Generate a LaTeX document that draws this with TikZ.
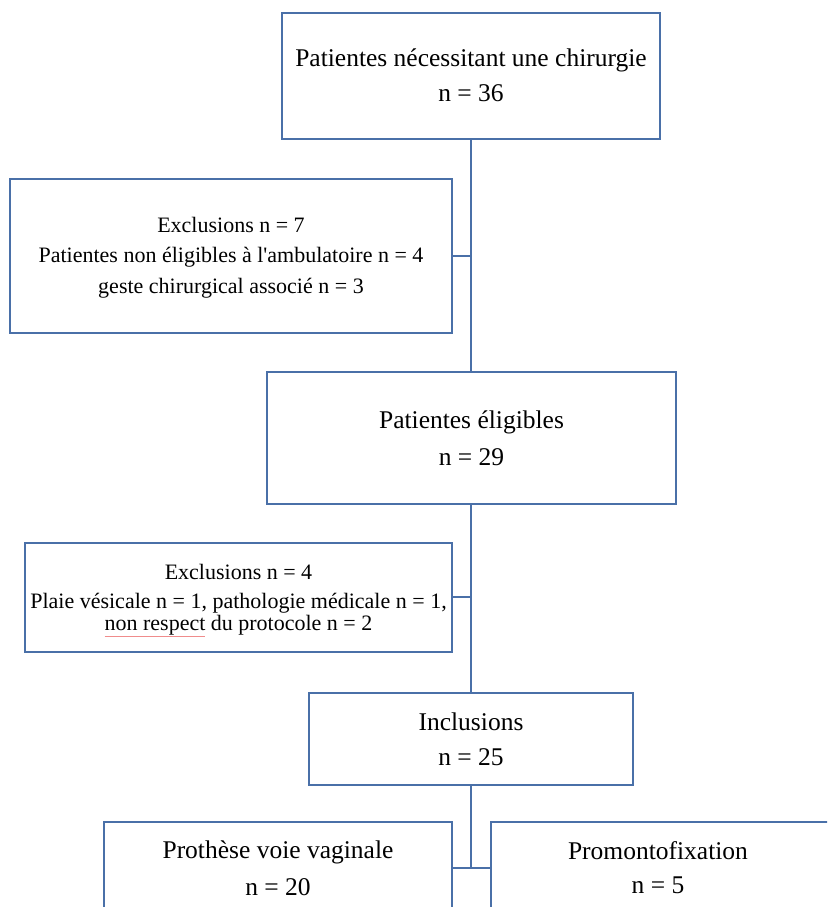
\documentclass[tikz,border=0pt]{standalone}
\usepackage{fontspec}
\setmainfont{Liberation Serif}[Ligatures=TeXOff]
\definecolor{boxblue}{RGB}{74,112,168}
\definecolor{spell}{RGB}{240,140,140}
\newcommand\spellul[1]{\textcolor{spell}{\underline{\textcolor{black}{#1}}}}
\tikzset{
  box/.style={draw=boxblue, line width=1.3pt, rectangle, inner sep=0pt, fill=white},
  conn/.style={draw=boxblue, line width=1.3pt},
  big/.style={font=\fontsize{25.5}{33}\selectfont, inner sep=0pt, align=center},
  small/.style={font=\fontsize{22}{31}\selectfont, inner sep=0pt, align=center},
}
\begin{document}
\begin{tikzpicture}[x=1pt,y=-1pt]
\useasboundingbox (0,0) rectangle (827,907);
\clip (0,0) rectangle (827,907);
% boxes
\node[box, minimum width=378pt, minimum height=126pt] (b1) at (471,76) {};
\node[box, minimum width=442pt, minimum height=154pt] (b2) at (231,256) {};
\node[box, minimum width=409pt, minimum height=132pt] (b3) at (471.5,438) {};
\node[box, minimum width=427pt, minimum height=109pt] (b4) at (238.5,597.5) {};
\node[box, minimum width=324pt, minimum height=92pt] (b5) at (471,739) {};
\node[box, minimum width=348pt, minimum height=120pt] (b6) at (278,882) {};
\node[box, minimum width=360pt, minimum height=120pt] (b7) at (671,882) {};
% connectors
\coordinate (j1) at (471,256);
\coordinate (j2) at (471,597);
\coordinate (j3) at (471,868);
\draw[conn] (b1.south -| j1) -- (b3.north -| j1);
\draw[conn] (b2.east |- j1) -- (j1);
\draw[conn] (b3.south -| j2) -- (b5.north -| j2);
\draw[conn] (b4.east |- j2) -- (j2);
\draw[conn] (b5.south -| j3) -- (j3);
\draw[conn] (b6.east |- j3) -- (b7.west |- j3);
% texts
\node[big] (t1a) at (471,60) {Patientes nécessitant une chirurgie};
\node[big] (t1b) at (471,93) {n = 36};
\node[small] (t2a) at (231,225) {Exclusions n = 7};
\node[small] (t2b) at (231,257) {Patientes non éligibles à l'ambulatoire n = 4};
\node[small] (t2c) at (231,288) {geste chirurgical associé n = 3};
\node[big] (t3a) at (471.5,422) {Patientes éligibles};
\node[big] (t3b) at (471.5,457) {n = 29};
\node[small] (t4a) at (238.5,572) {Exclusions n = 4};
\node[small] (t4b) at (238.5,603) {Plaie vésicale n = 1, pathologie médicale n = 1,};
\node[small] (t4c) at (238.5,626) {\spellul{non respect} du protocole n = 2};
\node[big] (t5a) at (471,722) {Inclusions};
\node[big] (t5b) at (471,757) {n = 25};
\node[big] (t6a) at (278,852) {Prothèse voie vaginale};
\node[big] (t6b) at (278,887) {n = 20};
\node[big] (t7a) at (658,851) {Promontofixation};
\node[big] (t7b) at (658,885) {n = 5};
\end{tikzpicture}
\end{document}
